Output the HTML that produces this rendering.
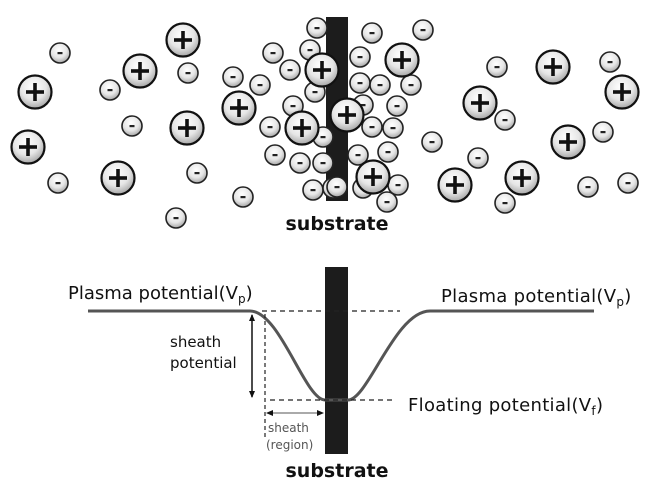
<!DOCTYPE html>
<html><head><style>
html,body{margin:0;padding:0;background:#fff;}
svg{display:block;}
text{font-family:"DejaVu Sans","Liberation Sans",sans-serif;fill:#111;}
</style></head><body>
<svg width="670" height="492" viewBox="0 0 670 492" xmlns="http://www.w3.org/2000/svg">
<defs>
<radialGradient id="g" cx="0.45" cy="0.35" r="0.7">
<stop offset="0" stop-color="#ffffff"/><stop offset="0.55" stop-color="#e6e6e6"/><stop offset="1" stop-color="#9a9a9a"/>
</radialGradient>
<g id="m"><circle r="10" fill="url(#g)" stroke="#222" stroke-width="1.6"/><rect x="-2.5" y="-1" width="5" height="2.2" fill="#222"/></g>
<g id="p"><circle r="16.5" fill="url(#g)" stroke="#111" stroke-width="2.2"/><rect x="-9" y="-1.8" width="18" height="3.6" fill="#111"/><rect x="-1.8" y="-9" width="3.6" height="18" fill="#111"/></g>
<marker id="ah" markerWidth="8" markerHeight="8" refX="6" refY="4" orient="auto-start-reverse" markerUnits="userSpaceOnUse"><path d="M0,1 L7,4 L0,7 z" fill="#111"/></marker>
</defs>
<rect x="326" y="17" width="22" height="184" fill="#1c1c1c"/>
<g>
<use href="#m" x="60" y="53"/><use href="#m" x="188" y="73"/><use href="#m" x="110" y="90"/><use href="#m" x="132" y="126"/>
<use href="#m" x="58" y="183"/><use href="#m" x="197" y="173"/><use href="#m" x="176" y="218"/><use href="#m" x="243" y="197"/>
<use href="#m" x="233" y="77"/><use href="#m" x="260" y="85"/><use href="#m" x="273" y="53"/><use href="#m" x="290" y="70"/>
<use href="#m" x="317" y="28"/><use href="#m" x="310" y="50"/><use href="#m" x="315" y="92"/><use href="#m" x="293" y="106"/>
<use href="#m" x="270" y="127"/><use href="#m" x="275" y="155"/><use href="#m" x="300" y="163"/><use href="#m" x="323" y="137"/>
<use href="#m" x="323" y="163"/><use href="#m" x="313" y="190"/><use href="#m" x="333" y="188"/>
<use href="#m" x="372" y="33"/><use href="#m" x="423" y="30"/><use href="#m" x="360" y="57"/><use href="#m" x="360" y="83"/>
<use href="#m" x="380" y="85"/><use href="#m" x="411" y="85"/><use href="#m" x="363" y="105"/><use href="#m" x="397" y="106"/>
<use href="#m" x="372" y="127"/><use href="#m" x="393" y="128"/><use href="#m" x="388" y="152"/><use href="#m" x="358" y="155"/>
<use href="#m" x="398" y="185"/><use href="#m" x="387" y="202"/><use href="#m" x="363" y="188"/><use href="#m" x="337" y="187"/>
<use href="#m" x="432" y="142"/><use href="#m" x="497" y="67"/><use href="#m" x="505" y="120"/><use href="#m" x="478" y="158"/>
<use href="#m" x="505" y="203"/><use href="#m" x="610" y="62"/><use href="#m" x="603" y="132"/><use href="#m" x="588" y="187"/><use href="#m" x="628" y="183"/>
</g>
<g>
<use href="#p" x="183" y="40"/><use href="#p" x="140" y="71"/><use href="#p" x="35" y="92"/><use href="#p" x="28" y="147"/>
<use href="#p" x="187" y="128"/><use href="#p" x="118" y="178"/><use href="#p" x="239" y="108"/><use href="#p" x="302" y="128"/>
<use href="#p" x="322" y="70"/><use href="#p" x="402" y="60"/><use href="#p" x="347" y="115"/><use href="#p" x="373" y="177"/>
<use href="#p" x="455" y="185"/><use href="#p" x="522" y="178"/><use href="#p" x="480" y="103"/><use href="#p" x="553" y="67"/>
<use href="#p" x="622" y="92"/><use href="#p" x="568" y="142"/>
</g>
<text x="337" y="230" font-size="19" font-weight="bold" text-anchor="middle">substrate</text>

<rect x="325" y="267" width="23" height="187" fill="#1c1c1c"/>
<path d="M88,311 L250,311 C280,311 305,400 325,400 L348,400 C368,400 395,311 430,311 L594,311" fill="none" stroke="#555" stroke-width="3"/>
<line x1="262" y1="311" x2="400" y2="311" stroke="#222" stroke-width="1.2" stroke-dasharray="5,4"/>
<line x1="270" y1="400" x2="395" y2="400" stroke="#222" stroke-width="1.2" stroke-dasharray="5,4"/>
<line x1="265" y1="314" x2="265" y2="440" stroke="#222" stroke-width="1.2" stroke-dasharray="4,3"/>
<line x1="252" y1="315" x2="252" y2="397" stroke="#111" stroke-width="1.5" marker-start="url(#ah)" marker-end="url(#ah)"/>
<line x1="267" y1="413" x2="323" y2="413" stroke="#555" stroke-width="1" marker-start="url(#ah)" marker-end="url(#ah)"/>
<text x="68" y="299" font-size="18">Plasma potential(V<tspan font-size="12" dy="4">p</tspan><tspan dy="-4">)</tspan></text>
<text x="441" y="302" font-size="18" letter-spacing="0.3">Plasma potential(V<tspan font-size="12" dy="4">p</tspan><tspan dy="-4">)</tspan></text>
<text x="408" y="411" font-size="18" letter-spacing="0.3">Floating potential(V<tspan font-size="12" dy="4">f</tspan><tspan dy="-4">)</tspan></text>
<text x="170" y="347" font-size="15">sheath</text>
<text x="170" y="368" font-size="15">potential</text>
<text x="268" y="432" font-size="12" style="fill:#555">sheath</text>
<text x="266" y="449" font-size="12" style="fill:#555">(region)</text>
<text x="337" y="477" font-size="19" font-weight="bold" text-anchor="middle">substrate</text>
</svg>
</body></html>
